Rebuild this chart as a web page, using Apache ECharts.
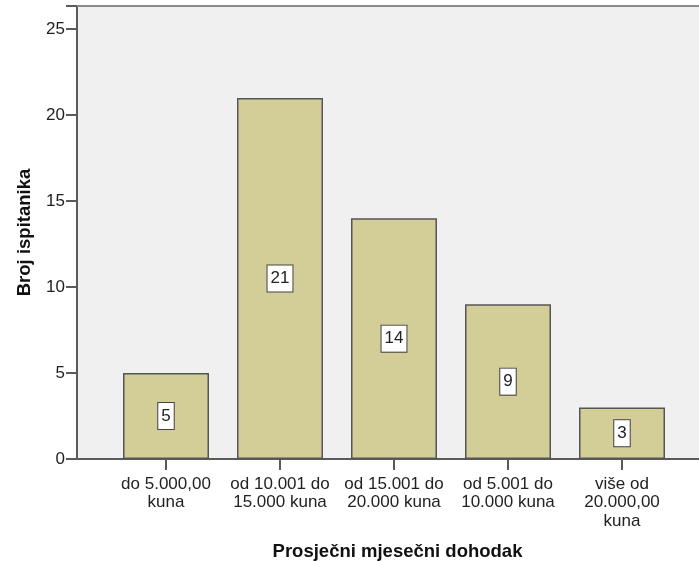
<!DOCTYPE html>
<html>
<head>
<meta charset="utf-8">
<script src="https://cdn.jsdelivr.net/npm/echarts@6/dist/echarts.min.js"></script>
<style>
  html, body { margin: 0; padding: 0; background: #ffffff; }
  #chart { width: 699px; height: 562px; }
</style>
</head>
<body>
<div id="chart"></div>
<script>
// Income brackets and number of respondents in each
const categories = [
  'do 5.000,00\nkuna',
  'od 10.001 do\n15.000 kuna',
  'od 15.001 do\n20.000 kuna',
  'od 5.001 do\n10.000 kuna',
  'više od\n20.000,00\nkuna'
];
const counts = [5, 21, 14, 9, 3];
const yTicks = [0, 5, 10, 15, 20, 25];

const yMax = 26.35;
const font = 'Liberation Sans, Arial, sans-serif';
const lineColor = '#5a5a5a';

const chart = echarts.init(document.getElementById('chart'), null, { renderer: 'canvas' });

chart.setOption({
  animation: false,
  backgroundColor: '#ffffff',
  grid: [
    // frame of the plot area with the grey background
    {
      left: 77, right: 0, top: 6, bottom: 103, outerBoundsMode: 'none',
      show: true, backgroundColor: '#f0f0f0', borderWidth: 0
    },
    // area where the bars are laid out
    { left: 109, right: 20, top: 6, bottom: 103, outerBoundsMode: 'none' }
  ],
  xAxis: [
    {
      gridIndex: 0, type: 'value', min: 0, max: 1, position: 'bottom',
      axisLine: { show: true, lineStyle: { color: lineColor, width: 2 } },
      axisTick: { show: false }, axisLabel: { show: false }, splitLine: { show: false }
    },
    {
      gridIndex: 0, type: 'value', min: 0, max: 1, position: 'top',
      axisLine: { show: true, lineStyle: { color: '#8a8a8a', width: 2 } },
      axisTick: { show: false }, axisLabel: { show: false }, splitLine: { show: false }
    },
    {
      gridIndex: 1, type: 'category', data: categories, boundaryGap: true,
      axisLine: { show: false },
      axisTick: { show: true, alignWithLabel: true, length: 11, lineStyle: { color: lineColor, width: 2 } },
      axisLabel: {
        interval: 0, margin: 16, fontSize: 17, lineHeight: 18.5,
        fontFamily: font, color: '#222222', align: 'center'
      },
      name: 'Prosječni mjesečni dohodak',
      nameLocation: 'middle',
      nameGap: 83,
      nameTextStyle: {
        fontSize: 18.5, fontWeight: 'bold', fontFamily: font, color: '#111111',
        padding: [0, 0, 0, 7]
      }
    }
  ],
  yAxis: [
    {
      gridIndex: 0, type: 'value', min: 0, max: yMax, interval: 5,
      axisLine: { show: true, lineStyle: { color: lineColor, width: 2 } },
      axisTick: { show: true, length: 11, lineStyle: { color: lineColor, width: 2 } },
      axisLabel: {
        margin: 12, fontSize: 17, fontFamily: font, color: '#222222',
        formatter: v => (yTicks.includes(v) ? String(v) : '')
      },
      splitLine: { show: false },
      name: 'Broj ispitanika',
      nameLocation: 'middle',
      nameRotate: 90,
      nameGap: 43,
      nameTextStyle: { fontSize: 18.5, fontWeight: 'bold', fontFamily: font, color: '#111111' }
    },
    {
      gridIndex: 1, type: 'value', min: 0, max: yMax,
      show: false, splitLine: { show: false }
    }
  ],
  series: [
    {
      type: 'bar',
      xAxisIndex: 2,
      yAxisIndex: 1,
      data: counts,
      barWidth: 86,
      itemStyle: { color: '#d3ce98', borderColor: '#555555', borderWidth: 1.5 },
      label: {
        show: true,
        position: 'inside',
        fontSize: 17,
        fontFamily: font,
        color: '#222222',
        backgroundColor: '#ffffff',
        borderColor: '#444444',
        borderWidth: 1,
        padding: [5, 3, 4, 3]
      }
    }
  ]
});
</script>
</body>
</html>
